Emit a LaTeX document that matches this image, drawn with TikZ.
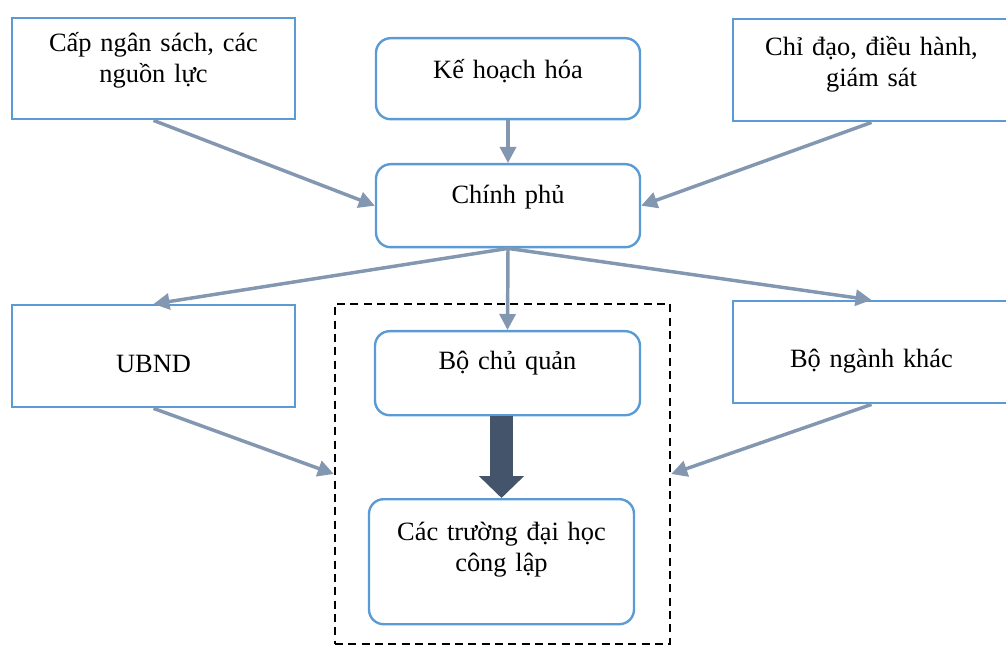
\documentclass[tikz,border=0pt]{standalone}
\usepackage{fontspec}
\setmainfont{Liberation Serif}
\usetikzlibrary{arrows.meta}
\definecolor{khung}{HTML}{5B9BD5}
\definecolor{muiten}{HTML}{8497B0}
\definecolor{muidam}{HTML}{44546A}

\begin{document}
\begin{tikzpicture}[x=0.75pt,y=0.75pt,yscale=-1,xscale=1,
  hop/.style={draw=khung, line width=1.8pt, inner sep=0pt, align=center, anchor=north,
    font=\fontsize{19.8}{23.25}\selectfont},
  hoptron/.style={hop, rounded corners=11pt},
  noi/.style={draw=muiten, line width=2.6pt, -{Triangle[length=12pt,width=12pt]}},
  nhomgach/.style={draw=black, line width=1.8pt, dash pattern=on 6pt off 4pt, inner sep=0pt}]
%set diagram size 1006 x 648
\useasboundingbox (0,0) rectangle (1006,648);
\clip (0,0) rectangle (1006,648);

%Shape: Rectangle [dashed group]
\node[nhomgach, minimum width=251.25pt, minimum height=255pt] (nhom) at (502.5,474) {};

%Shape: Rectangle
\node[hop, text width=212.25pt, text height=24.75pt, text depth=51pt] (cap) at (153.5,17) {Cấp ngân sách, các\\nguồn lực};
%Shape: Rounded Rect
\node[hoptron, text width=198pt, text height=30pt, text depth=30.75pt] (kh) at (508,37) {Kế hoạch hóa};
%Shape: Rectangle
\node[hop, text width=207.75pt, text height=27pt, text depth=49.5pt] (cd) at (871.5,18) {Chỉ đạo, điều hành,\\giám sát};
%Shape: Rounded Rect
\node[hoptron, text width=198pt, text height=29.25pt, text depth=33pt] (cp) at (508,163) {Chính phủ};
%Shape: Rectangle
\node[hop, text width=212.25pt, text height=50.25pt, text depth=26.25pt] (ub) at (153.5,304) {UBND};
%Shape: Rounded Rect
\node[hoptron, text width=198.75pt, text height=28.5pt, text depth=34.5pt] (bcq) at (507.5,330) {Bộ chủ quản};
%Shape: Rectangle
\node[hop, text width=207.75pt, text height=49.5pt, text depth=27pt] (bnk) at (871.5,300) {Bộ ngành khác};
%Shape: Rounded Rect
\node[hoptron, text width=198.75pt, text height=30.75pt, text depth=63pt] (ct) at (501.5,498) {Các trường đại học\\công lập};

%Straight Lines
\draw[noi] (cap.south) -- (cp.west);
\draw[noi] (kh.south) -- (cp.north);
\draw[noi] (cd.south) -- (cp.east);
\draw[noi] (cp.south) -- (ub.north);
\draw[noi] (cp.south) -- (bcq.north);
\draw[noi] (cp.south) -- (bnk.north);
\draw[noi] (ub.south) -- (nhom.west);
\draw[noi] (bnk.south) -- (nhom.east);
%Block Arrow
\draw[muidam, line width=17.25pt, -{Triangle[length=16.5pt,width=33pt]}] (bcq.south -| ct.north) -- (ct.north);

\end{tikzpicture}
\end{document}
